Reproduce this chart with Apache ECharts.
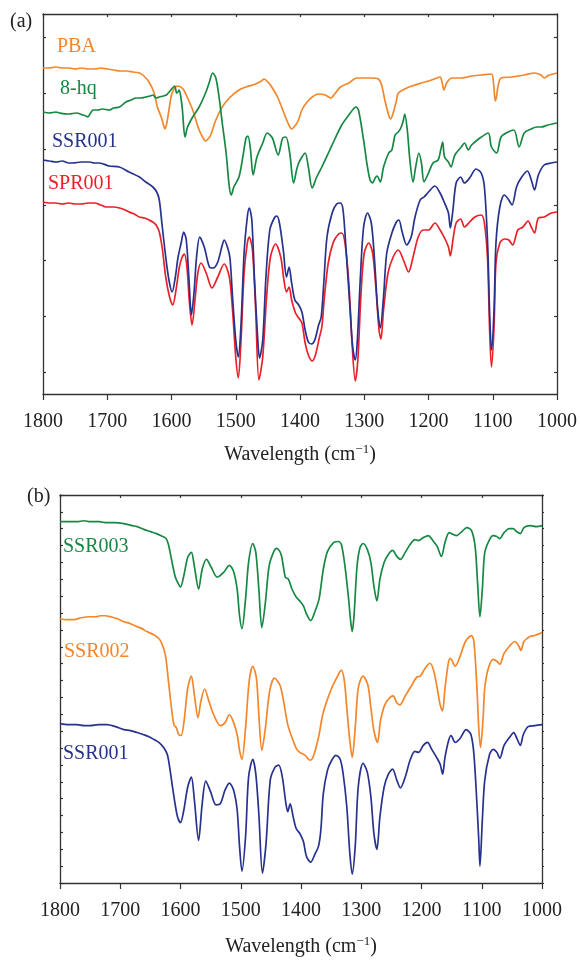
<!DOCTYPE html>
<html>
<head>
<meta charset="utf-8">
<script src="https://cdn.jsdelivr.net/npm/echarts@6/dist/echarts.min.js"></script>
<style>
  html, body { margin: 0; padding: 0; background: #ffffff; }
  #chart { width: 580px; height: 960px; }
</style>
</head>
<body>
<div id="chart"></div>
<script>
// FT-IR spectra, transmittance in arbitrary units (curves offset for clarity)
const wavenumberTicks = [1800, 1700, 1600, 1500, 1400, 1300, 1200, 1100, 1000];

// Panel (a): precursors and the two products
const namesA = ['PBA', '8-hq', 'SPR001', 'SSR001'];
const PBA = [[1800,326],[1790,326],[1780,327],[1770,326],[1760,326],[1750,325],[1740,326],[1730,325],[1720,325],[1710,326],[1700,325],[1690,324],[1680,323],[1670,323],[1660,322],[1650,321],[1643,318],[1635,312],[1627,301],[1622,287],[1616,277],[1612,268],[1610,265],[1607,272],[1604,284],[1600,299],[1595,306],[1590,308],[1582,305],[1575,296],[1567,284],[1557,264],[1550,255],[1547,253],[1543,255],[1539,259],[1531,274],[1521,287],[1510,296],[1495,304],[1484,307],[1469,310],[1460,313],[1456,315],[1450,312],[1446,309],[1435,297],[1425,281],[1418,270],[1413,265],[1408,268],[1403,273],[1397,284],[1389,292],[1381,297],[1371,300],[1361,299],[1352,296],[1345,301],[1337,307],[1324,311],[1312,316],[1299,316],[1288,316],[1278,315],[1273,309],[1268,294],[1262,279],[1259,275],[1255,281],[1250,293],[1247,301],[1237,305],[1226,308],[1211,311],[1195,314],[1182,317],[1179,312],[1176,304],[1173,309],[1171,312],[1164,316],[1149,316],[1140,317],[1133,318],[1118,319],[1102,320],[1099,312],[1096,293],[1094,298],[1092,307],[1087,316],[1071,317],[1051,319],[1035,321],[1025,319],[1020,316],[1015,318],[1012,319],[1000,321]];
const HQ8 = [[1800,282],[1790,281],[1780,282],[1774,281],[1760,280],[1748,281],[1738,279],[1733,278],[1730,277],[1726,281],[1722,284],[1715,284],[1707,285],[1697,284],[1690,286],[1681,287],[1671,292],[1663,294],[1655,296],[1648,296],[1640,297],[1633,298],[1629,299],[1624,296],[1619,297],[1613,298],[1608,299],[1601,304],[1595,308],[1592,301],[1590,302],[1588,304],[1585,295],[1583,284],[1579,257],[1575,267],[1567,277],[1557,287],[1547,301],[1541,312],[1536,321],[1531,316],[1526,297],[1521,271],[1515,241],[1510,207],[1507,199],[1503,207],[1495,217],[1489,237],[1484,256],[1481,258],[1477,244],[1473,219],[1467,237],[1458,251],[1451,261],[1443,256],[1434,239],[1427,256],[1422,257],[1416,241],[1410,211],[1405,225],[1402,231],[1397,237],[1392,241],[1387,227],[1381,206],[1374,217],[1366,227],[1355,242],[1345,256],[1335,269],[1324,279],[1317,285],[1313,287],[1309,284],[1301,254],[1296,231],[1291,214],[1287,211],[1283,216],[1280,218],[1275,212],[1270,227],[1262,241],[1257,244],[1252,259],[1247,262],[1243,266],[1239,274],[1237,280],[1233,264],[1229,234],[1224,212],[1220,227],[1215,241],[1211,231],[1207,212],[1200,221],[1193,231],[1185,234],[1181,244],[1178,252],[1175,237],[1169,232],[1165,227],[1159,239],[1149,247],[1144,251],[1138,244],[1133,249],[1120,256],[1107,261],[1102,247],[1094,241],[1087,257],[1076,262],[1067,264],[1059,247],[1051,261],[1040,265],[1032,267],[1025,267],[1014,269],[1000,271]];
const SPR001 = [[1800,192],[1790,191],[1780,191],[1770,190],[1760,191],[1750,190],[1740,190],[1730,191],[1720,191],[1710,189],[1702,187],[1690,187],[1681,186],[1672,184],[1666,182],[1658,180],[1650,177],[1642,176],[1635,174],[1629,172],[1624,169],[1619,162],[1614,144],[1609,117],[1603,97],[1598,89],[1593,104],[1588,126],[1584,136],[1580,140],[1576,127],[1572,91],[1568,69],[1563,97],[1559,121],[1554,131],[1546,121],[1537,106],[1528,117],[1518,130],[1510,117],[1505,84],[1500,37],[1496,16],[1492,51],[1487,121],[1482,151],[1479,157],[1474,144],[1469,84],[1464,14],[1458,37],[1452,97],[1446,137],[1438,150],[1430,137],[1425,114],[1421,102],[1417,107],[1413,94],[1407,81],[1402,76],[1397,71],[1392,51],[1387,39],[1381,33],[1376,39],[1370,56],[1366,67],[1362,97],[1356,131],[1348,152],[1340,160],[1335,161],[1330,151],[1324,111],[1319,51],[1314,13],[1310,34],[1305,101],[1300,141],[1293,151],[1287,141],[1282,107],[1277,64],[1274,55],[1270,84],[1263,121],[1255,137],[1247,144],[1239,134],[1231,122],[1224,137],[1216,157],[1208,164],[1200,164],[1190,171],[1182,164],[1175,156],[1169,147],[1166,138],[1162,154],[1157,171],[1150,175],[1144,167],[1136,172],[1128,177],[1118,179],[1113,171],[1108,134],[1105,67],[1102,27],[1098,67],[1095,131],[1089,151],[1082,155],[1075,154],[1069,149],[1061,164],[1053,167],[1045,173],[1040,167],[1035,161],[1029,176],[1020,177],[1009,181],[1000,182]];
const SSR001a = [[1800,234],[1790,233],[1779,232],[1770,233],[1760,231],[1754,231],[1740,232],[1728,232],[1720,231],[1712,231],[1697,228],[1681,227],[1666,222],[1650,217],[1640,212],[1629,207],[1623,202],[1619,194],[1615,171],[1609,137],[1604,114],[1599,102],[1594,117],[1590,136],[1585,151],[1581,162],[1577,154],[1573,117],[1569,79],[1565,101],[1561,137],[1556,157],[1549,147],[1541,127],[1535,126],[1528,132],[1521,149],[1518,154],[1513,147],[1509,136],[1505,97],[1500,54],[1496,37],[1492,67],[1487,141],[1482,177],[1479,186],[1475,174],[1471,117],[1466,57],[1463,36],[1458,54],[1453,117],[1447,164],[1440,176],[1436,178],[1432,171],[1426,144],[1421,117],[1417,127],[1413,111],[1408,94],[1402,89],[1397,82],[1392,64],[1387,52],[1382,50],[1377,54],[1371,69],[1367,77],[1363,111],[1358,157],[1350,181],[1343,190],[1337,191],[1333,184],[1329,151],[1322,84],[1318,47],[1314,34],[1311,51],[1306,117],[1301,167],[1295,181],[1289,171],[1284,134],[1279,84],[1275,66],[1270,97],[1265,141],[1257,161],[1250,172],[1246,174],[1241,162],[1234,149],[1227,157],[1221,177],[1213,194],[1207,197],[1200,202],[1190,208],[1182,201],[1175,191],[1169,181],[1166,166],[1162,184],[1157,211],[1150,217],[1144,211],[1136,216],[1126,225],[1118,221],[1113,207],[1108,151],[1105,84],[1102,44],[1098,84],[1095,151],[1089,187],[1082,199],[1075,194],[1070,189],[1063,207],[1056,216],[1046,223],[1040,214],[1035,204],[1029,219],[1020,229],[1009,231],[1000,232]];

// Panel (b): the three SSR samples
const namesB = ['SSR003', 'SSR002', 'SSR001'];
const SSR003 = [[1800,365],[1785,365],[1772,365],[1760,366],[1750,365],[1735,365],[1722,364],[1710,364],[1694,363],[1680,361],[1672,360],[1660,357],[1650,355],[1640,353],[1633,351],[1624,348],[1620,342],[1614,324],[1609,310],[1605,304],[1600,299],[1595,309],[1588,329],[1582,334],[1577,320],[1570,297],[1564,317],[1557,327],[1549,319],[1539,309],[1528,314],[1519,321],[1512,315],[1506,297],[1502,270],[1498,257],[1492,287],[1487,324],[1480,343],[1475,334],[1470,297],[1465,258],[1459,284],[1453,320],[1445,335],[1440,338],[1433,332],[1426,309],[1421,307],[1415,297],[1408,289],[1402,285],[1396,280],[1391,272],[1384,265],[1377,274],[1370,287],[1363,317],[1356,335],[1346,344],[1338,345],[1333,342],[1327,320],[1321,287],[1318,267],[1315,254],[1312,270],[1307,320],[1302,339],[1297,343],[1290,337],[1284,324],[1279,300],[1274,285],[1269,307],[1262,324],[1255,332],[1248,336],[1241,330],[1235,327],[1227,334],[1219,342],[1211,347],[1205,346],[1197,349],[1189,351],[1180,345],[1174,340],[1167,330],[1161,344],[1154,354],[1147,352],[1142,351],[1133,355],[1125,359],[1117,356],[1111,340],[1107,304],[1103,269],[1099,297],[1095,334],[1087,347],[1081,351],[1075,350],[1070,348],[1063,354],[1054,358],[1048,358],[1042,355],[1036,353],[1030,359],[1020,361],[1009,360],[1000,361]];
const SSR002 = [[1800,267],[1790,266],[1777,266],[1765,268],[1750,269],[1740,269],[1733,270],[1725,270],[1716,269],[1705,267],[1694,264],[1683,262],[1672,259],[1664,257],[1656,254],[1645,251],[1636,247],[1631,242],[1625,230],[1620,204],[1615,177],[1611,160],[1607,157],[1603,150],[1599,149],[1594,164],[1588,197],[1582,209],[1577,190],[1571,167],[1566,184],[1560,196],[1553,184],[1545,170],[1534,159],[1526,162],[1519,170],[1513,164],[1506,150],[1502,134],[1498,125],[1492,157],[1486,204],[1480,219],[1474,207],[1470,170],[1465,134],[1459,157],[1452,194],[1444,207],[1435,200],[1429,184],[1422,160],[1415,147],[1407,135],[1402,132],[1393,129],[1385,124],[1380,127],[1371,147],[1364,170],[1357,184],[1349,197],[1341,207],[1333,215],[1328,204],[1324,177],[1319,144],[1315,127],[1310,157],[1305,197],[1297,209],[1289,200],[1284,177],[1279,154],[1273,142],[1268,164],[1261,180],[1253,187],[1247,189],[1241,182],[1236,180],[1227,189],[1216,200],[1208,208],[1202,209],[1194,217],[1186,222],[1180,215],[1174,197],[1169,180],[1165,174],[1161,197],[1155,224],[1152,227],[1144,219],[1136,229],[1127,244],[1117,250],[1113,244],[1108,197],[1105,157],[1102,137],[1098,164],[1095,197],[1089,217],[1081,226],[1075,224],[1070,221],[1063,232],[1053,240],[1045,244],[1039,240],[1035,235],[1030,244],[1020,249],[1012,250],[1000,253]];
const SSR001b = [[1800,161],[1786,160],[1772,160],[1760,159],[1750,159],[1736,160],[1722,160],[1708,158],[1694,155],[1683,154],[1672,152],[1662,150],[1653,148],[1644,145],[1636,142],[1628,137],[1622,130],[1618,117],[1614,100],[1609,80],[1605,67],[1600,61],[1595,72],[1588,97],[1582,107],[1577,84],[1570,43],[1564,80],[1558,103],[1550,92],[1541,79],[1534,80],[1526,94],[1519,101],[1512,94],[1506,74],[1502,37],[1498,12],[1492,47],[1487,107],[1480,125],[1475,110],[1470,70],[1464,10],[1458,40],[1451,104],[1443,117],[1437,119],[1431,107],[1425,80],[1422,72],[1418,80],[1413,67],[1408,55],[1402,50],[1396,42],[1391,27],[1384,21],[1377,29],[1371,37],[1367,54],[1363,90],[1356,114],[1349,124],[1342,129],[1335,125],[1330,110],[1324,77],[1319,30],[1315,9],[1310,37],[1305,97],[1297,121],[1290,112],[1284,87],[1279,50],[1274,34],[1269,67],[1262,97],[1255,110],[1248,115],[1241,104],[1235,96],[1227,107],[1219,124],[1211,133],[1205,132],[1197,139],[1190,142],[1183,135],[1175,127],[1169,120],[1165,110],[1161,127],[1155,144],[1151,149],[1144,142],[1136,146],[1126,155],[1118,150],[1113,130],[1108,80],[1105,44],[1103,17],[1099,64],[1095,104],[1087,130],[1081,135],[1075,132],[1070,126],[1063,139],[1054,147],[1047,152],[1041,145],[1036,139],[1031,150],[1023,158],[1012,159],[1000,160]];

// y-axis tick positions (a.u.)
const yTicksA = [22, 78, 134, 189, 245, 301, 357];
const yRangeA = [0, 380];
const yRangeB = [0, 392];
const yStepB = 392 / 23;

const ORANGE = '#f4862b', GREEN = '#178844', BLUE = '#27328f', RED = '#ea2129';
const FONT = '"Liberation Serif", "Times New Roman", serif';
const AXIS = '#333333';

const chart = echarts.init(document.getElementById('chart'), null, { renderer: 'canvas' });

function bottomX(gridIndex, gap) {
  return {
    gridIndex, type: 'value', position: 'bottom', inverse: true,
    min: 1000, max: 1800, interval: 100,
    axisLine: { show: true, onZero: false, lineStyle: { color: AXIS, width: 1.3 } },
    axisTick: { show: true, inside: false, length: 6, lineStyle: { color: AXIS, width: 1.2 } },
    axisLabel: { show: true, margin: 18, fontFamily: FONT, fontSize: 20, color: '#222',
      formatter: v => wavenumberTicks.includes(v) ? String(v) : '' },
    splitLine: { show: false },
    name: 'Wavelength (cm{sup|\u22121})',
    nameLocation: 'middle', nameGap: gap,
    nameTextStyle: { fontFamily: FONT, fontSize: 20, color: '#222', lineHeight: 24,
      rich: { sup: { fontFamily: FONT, fontSize: 13, lineHeight: 13, verticalAlign: 'top', color: '#222' } } }
  };
}
function topX(gridIndex) {
  return {
    gridIndex, type: 'value', position: 'top', inverse: true,
    min: 1000, max: 1800, interval: 100,
    axisLine: { show: true, onZero: false, lineStyle: { color: AXIS, width: 1.3 } },
    axisTick: { show: true, inside: true, length: 3, lineStyle: { color: AXIS, width: 1.2 } },
    axisLabel: { show: false }, splitLine: { show: false }
  };
}
function yAxisA(position) {
  return {
    gridIndex: 0, type: 'value', position, min: yRangeA[0], max: yRangeA[1],
    axisLine: { show: true, onZero: false, lineStyle: { color: AXIS, width: 1.3 } },
    axisTick: { show: true, inside: true, length: 3, customValues: yTicksA, lineStyle: { color: AXIS, width: 1.2 } },
    axisLabel: { show: false }, splitLine: { show: false }
  };
}
function yAxisB(position, inside) {
  return {
    gridIndex: 1, type: 'value', position, min: yRangeB[0], max: yRangeB[1], interval: yStepB,
    axisLine: { show: true, onZero: false, lineStyle: { color: AXIS, width: 1.3 } },
    axisTick: { show: true, inside, length: inside ? 3 : 2, lineStyle: { color: AXIS, width: 1.2 } },
    axisLabel: { show: false }, splitLine: { show: false }
  };
}
function curve(name, data, color, xi, yi) {
  return {
    name, type: 'line', data, xAxisIndex: xi, yAxisIndex: yi,
    showSymbol: false, smooth: 0.3, clip: true,
    lineStyle: { color, width: 1.7 }, emphasis: { disabled: true }
  };
}
function label(text, left, top, color) {
  return { type: 'text', left, top, silent: true,
    style: { text, fill: color, font: '20px ' + FONT } };
}

chart.setOption({
  animation: false,
  backgroundColor: '#ffffff',
  grid: [
    { left: 43, top: 14, width: 516, height: 380 },
    { left: 60, top: 495, width: 482, height: 392 }
  ],
  xAxis: [bottomX(0, 49), topX(0), bottomX(1, 52), topX(1)],
  yAxis: [yAxisA('left'), yAxisA('right'), yAxisB('left', true), yAxisB('right', false)],
  series: [
    curve(namesA[0], PBA, ORANGE, 0, 0),
    curve(namesA[1], HQ8, GREEN, 0, 0),
    curve(namesA[2], SPR001, RED, 0, 0),
    curve(namesA[3], SSR001a, BLUE, 0, 0),
    curve(namesB[0], SSR003, GREEN, 2, 2),
    curve(namesB[1], SSR002, ORANGE, 2, 2),
    curve(namesB[2], SSR001b, BLUE, 2, 2)
  ],
  graphic: [
    label('(a)', 10, 12, '#222'),
    label(namesA[0], 57, 37, ORANGE),
    label(namesA[1], 60, 79, GREEN),
    label(namesA[3], 52, 132, BLUE),
    label(namesA[2], 48, 174, RED),
    label('(b)', 27, 487, '#222'),
    label(namesB[0], 63, 537, GREEN),
    label(namesB[1], 64, 642, ORANGE),
    label(namesB[2], 63, 744, BLUE)
  ]
});
</script>
</body>
</html>
